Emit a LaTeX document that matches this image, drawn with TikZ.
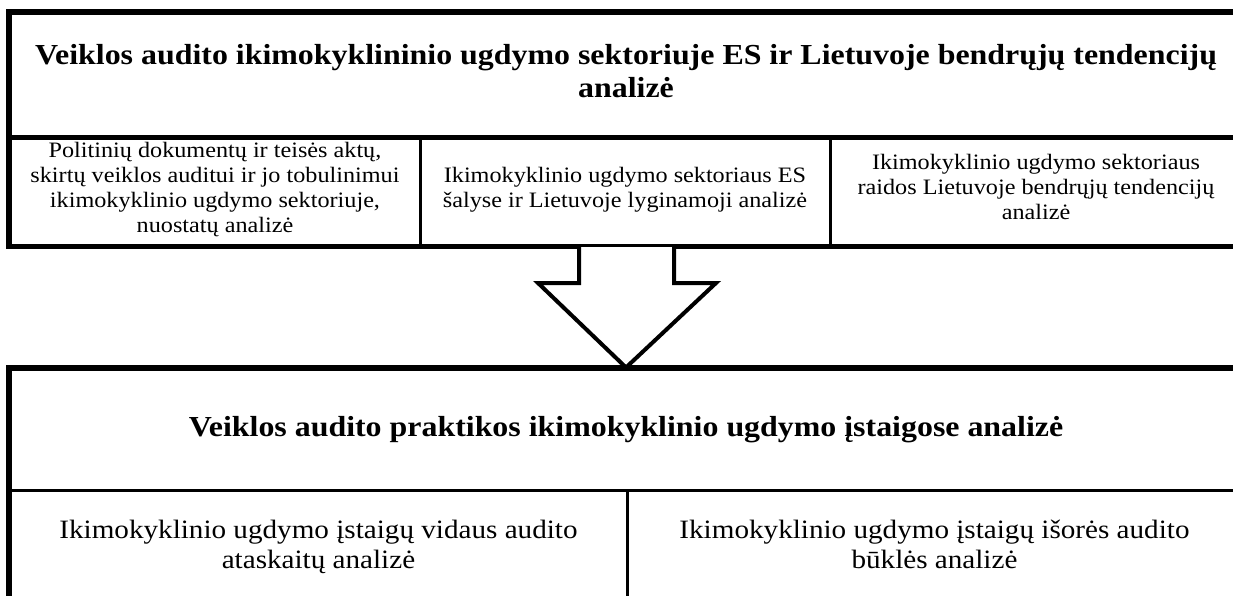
\documentclass[tikz,border=0pt]{standalone}
\usepackage{fontspec}
\setmainfont{Liberation Serif}[FakeStretch=1.1]

\begin{document}
\begin{tikzpicture}[x=1pt, y=-1pt,
  cell/.style={draw, line width=3pt, align=center, inner sep=0pt,
    execute at begin node=\strut, execute at end node=\strut},
  headfont/.style={font=\bfseries\fontsize{29}{33}\selectfont},
  smallfont/.style={font=\fontsize{22}{25}\selectfont},
  bigfont/.style={font=\fontsize{26.5}{30}\selectfont}]
  \clip (0,0) rectangle (1233,596);

  % top block
  \node[cell, headfont, minimum width=1232pt, minimum height=125pt] (t0) at (626,76)
    {Veiklos audito ikimokyklininio ugdymo sektoriuje ES ir Lietuvoje bendrųjų tendencijų\\analizė};
  \node[cell, smallfont, minimum width=410pt, minimum height=108pt] (t1) at (215,191)
    {Politinių dokumentų ir teisės aktų,\\skirtų veiklos auditui ir jo tobulinimui\\ikimokyklinio ugdymo sektoriuje,\\nuostatų analizė};
  \node[cell, smallfont, minimum width=410pt, minimum height=108pt] (t2) at (625,191)
    {Ikimokyklinio ugdymo sektoriaus ES\\šalyse ir Lietuvoje lyginamoji analizė};
  \node[cell, smallfont, minimum width=412pt, minimum height=108pt] (t3) at (1036,191)
    {Ikimokyklinio ugdymo sektoriaus\\raidos Lietuvoje bendrųjų tendencijų\\analizė};
  \draw[line width=5pt] (t0.north east) -| (t1.south west) -- (t3.south east);

  % bottom block
  \node[cell, headfont, minimum width=1232pt, minimum height=121pt] (b0) at (626,429.5)
    {Veiklos audito praktikos ikimokyklinio ugdymo įstaigose analizė};
  \node[cell, bigfont, minimum width=617pt, minimum height=118pt] (b1) at (318.5,549)
    {Ikimokyklinio ugdymo įstaigų vidaus audito\\ataskaitų analizė};
  \node[cell, bigfont, minimum width=615pt, minimum height=118pt] (b2) at (934.5,549)
    {Ikimokyklinio ugdymo įstaigų išorės audito\\būklės analizė};
  \draw[line width=5pt] (b0.north east) -| (b1.south west);

  % arrow
  \draw[line width=4pt, fill=white, line join=miter]
    (579,247) -- (579,283) -- (538,283) -- (b0.north) -- (716,283) -- (674,283) -- (674,247);
\end{tikzpicture}
\end{document}
